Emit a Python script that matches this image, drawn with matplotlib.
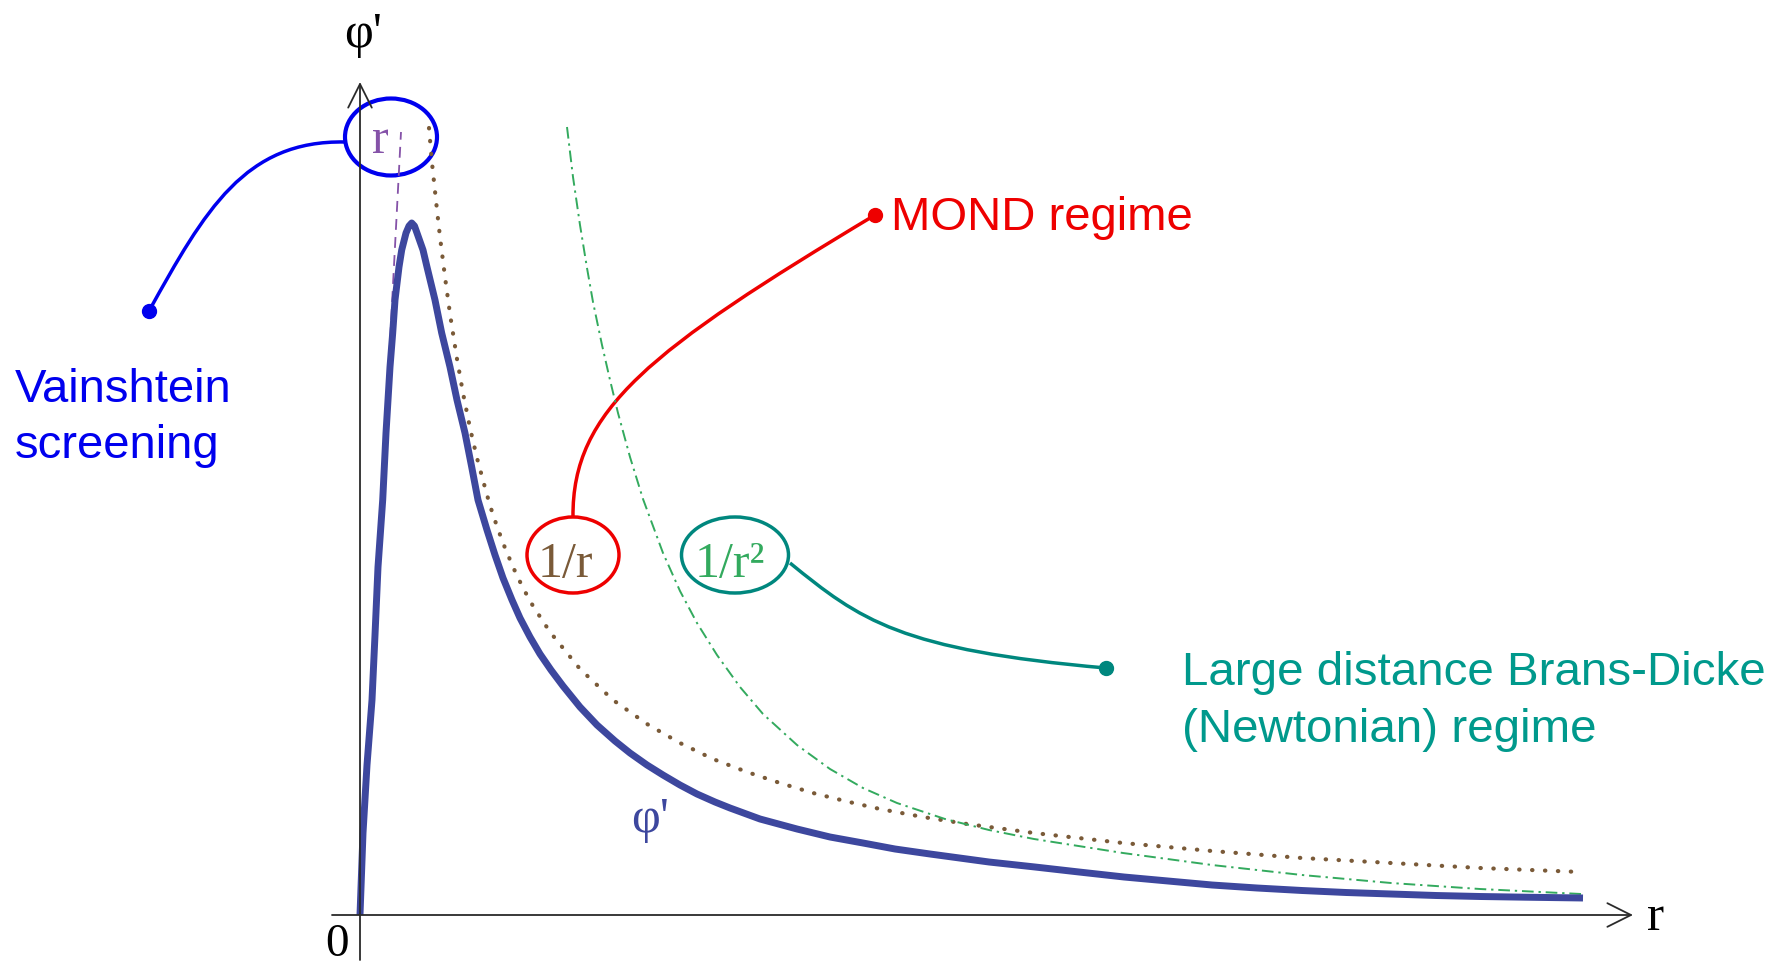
import matplotlib
matplotlib.use("Agg")
import matplotlib.pyplot as plt
from matplotlib.patches import Ellipse, PathPatch
from matplotlib.path import Path

# schematic curves (r, phi')
r_phi = [0.00, 0.03, 0.07, 0.12, 0.15, 0.18, 0.227, 0.26, 0.30, 0.327, 0.35, 0.39, 0.417,
         0.46, 0.49, 0.517, 0.545, 0.57, 0.63, 0.67, 0.75, 0.817, 0.90, 0.97, 1.05, 1.117,
         1.18, 1.27, 1.35, 1.43, 1.52, 1.60, 1.70, 1.80, 1.91, 2.03, 2.20, 2.37, 2.55,
         2.70, 2.87, 3.03, 3.20, 3.37, 3.55, 3.70, 4.00, 4.37, 4.70, 5.03, 5.35, 5.70,
         6.29, 6.75, 7.19, 7.64, 8.08, 8.52, 8.97, 9.42, 9.86, 10.31, 10.76, 11.20,
         11.65, 12.23]
phi = [0.00, 0.82, 1.50, 2.15, 2.80, 3.48, 4.15, 4.82, 5.48, 5.82, 6.15, 6.48, 6.65,
       6.82, 6.89, 6.92, 6.89, 6.82, 6.65, 6.48, 6.15, 5.82, 5.48, 5.15, 4.82, 4.48,
       4.15, 3.85, 3.60, 3.37, 3.15, 2.97, 2.78, 2.61, 2.45, 2.29, 2.08, 1.90, 1.74,
       1.62, 1.50, 1.40, 1.30, 1.21, 1.13, 1.07, 0.96, 0.86, 0.78, 0.72, 0.66, 0.61,
       0.53, 0.48, 0.43, 0.38, 0.34, 0.30, 0.27, 0.245, 0.225, 0.21, 0.195, 0.185,
       0.178, 0.17]

r_lin = [0.00, 0.41]
lin = [0.00, 7.83]

r_inv = [0.69, 0.72, 0.77, 0.80, 0.85, 0.90, 0.97, 1.03, 1.10, 1.17, 1.27, 1.33, 1.43,
         1.53, 1.63, 1.73, 1.90, 2.20, 2.53, 2.87, 3.20, 3.53, 3.87, 4.20, 4.53, 4.87,
         5.20, 5.63, 6.07, 6.74, 7.63, 8.52, 9.42, 10.31, 11.20, 12.21]
inv = [7.87, 7.52, 7.05, 6.78, 6.38, 6.01, 5.56, 5.22, 4.87, 4.57, 4.20, 4.00, 3.72,
       3.48, 3.27, 3.09, 2.83, 2.46, 2.15, 1.91, 1.72, 1.56, 1.43, 1.32, 1.22, 1.135,
       1.06, 0.98, 0.91, 0.82, 0.72, 0.64, 0.57, 0.52, 0.47, 0.43]

r_inv2 = [2.07, 2.13, 2.20, 2.27, 2.33, 2.42, 2.50, 2.58, 2.70, 2.83, 3.03, 3.20, 3.37,
          3.57, 3.80, 4.03, 4.37, 4.70, 5.03, 5.37, 5.85, 6.29, 6.74, 7.63, 8.52, 9.42,
          10.31, 11.20, 12.21]
inv2 = [7.88, 7.38, 6.90, 6.47, 6.13, 5.70, 5.35, 5.02, 4.58, 4.16, 3.62, 3.24, 2.92,
        2.60, 2.28, 2.01, 1.70, 1.46, 1.27, 1.12, 0.96, 0.85, 0.76, 0.62, 0.50, 0.40,
        0.32, 0.26, 0.21]

BLUE_CURVE = "#3d479e"
BROWN = "#7a5a38"
GREEN = "#33aa5e"
PURPLE = "#8552a8"
TEAL = "#00877e"
TEAL_TXT = "#00998c"

serif = ["Liberation Serif", "DejaVu Serif"]
sans = ["Liberation Sans", "DejaVu Sans"]

fig = plt.figure(figsize=(17.91, 9.66), dpi=100)
ax = fig.add_axes([0, 0, 1, 1])
ax.set_xlim(-3.60, 14.31)
ax.set_ylim(-0.51, 9.15)
ax.axis("off")

# axes with open arrow heads
arrow = dict(arrowstyle="->,head_length=17,head_width=8.5", mutation_scale=1,
             lw=1.3, color="#2a2a2a", shrinkA=0, shrinkB=0)
ax.annotate("", xy=(0, 8.33), xytext=(0, -0.45), arrowprops=arrow)
ax.annotate("", xy=(12.73, 0), xytext=(-0.28, 0), arrowprops=arrow)

# curves
ax.plot(r_lin, lin, color=PURPLE, lw=1.3, dashes=(6, 4))
ax.plot(r_inv, inv, color=BROWN, lw=3, dashes=(0.1, 3.0), dash_capstyle="round")
ax.plot(r_inv2, inv2, color=GREEN, lw=1.4, dashes=(6, 2.5, 1.2, 2.5))
ax.plot(r_phi, phi, color=BLUE_CURVE, lw=5, solid_capstyle="butt", solid_joinstyle="round")

# math labels
ax.text(0.03, 8.68, "φ'", family=serif, fontsize=36, ha="center", va="baseline")
ax.text(-0.23, -0.41, "0", family=serif, fontsize=34, ha="center", va="baseline")
ax.text(12.96, -0.15, "r", family=serif, fontsize=37, ha="center", va="baseline")
ax.text(2.90, 0.83, "φ'", family=serif, fontsize=36, color=BLUE_CURVE, ha="center", va="baseline")
ax.text(0.20, 7.62, "r", family=serif, fontsize=36, color=PURPLE, ha="center", va="baseline")
ax.text(2.05, 3.38, "1/r", family=serif, fontsize=36, color=BROWN, ha="center", va="baseline")
ax.text(3.70, 3.38, "1/r²", family=serif, fontsize=36, color=GREEN, ha="center", va="baseline")

# circled labels
ax.add_patch(Ellipse((0.31, 7.78), 0.92, 0.77, fill=False, ec="#0000ee", lw=3))
ax.add_patch(Ellipse((2.13, 3.60), 0.92, 0.76, fill=False, ec="#ee0000", lw=2.5))
ax.add_patch(Ellipse((3.75, 3.60), 1.07, 0.76, fill=False, ec=TEAL, lw=2.5))

# connectors to the captions
def connector(p0, p1, p2, p3, color):
    path = Path([p0, p1, p2, p3], [Path.MOVETO, Path.CURVE4, Path.CURVE4, Path.CURVE4])
    ax.add_patch(PathPatch(path, fill=False, ec=color, lw=2.5))
    ax.plot(*p0, "o", color=color, ms=10)

connector((-2.11, 6.04), (-1.55, 7.05), (-1.15, 7.75), (-0.15, 7.73), "#0000ee")
connector((5.15, 7.00), (2.90, 5.65), (2.12, 5.05), (2.13, 3.98), "#ee0000")
connector((7.46, 2.47), (5.40, 2.65), (5.00, 2.95), (4.30, 3.52), TEAL)

# captions
ax.text(-3.45, 5.13, "Vainshtein", family=sans, fontsize=34, color="#0000ee", va="baseline")
ax.text(-3.45, 4.57, "screening", family=sans, fontsize=34, color="#0000ee", va="baseline")
ax.text(5.31, 6.85, "MOND regime", family=sans, fontsize=34, color="#ee0000", va="baseline")
ax.text(8.22, 2.30, "Large distance Brans-Dicke", family=sans, fontsize=34.2, color=TEAL_TXT, va="baseline")
ax.text(8.22, 1.73, "(Newtonian) regime", family=sans, fontsize=34.2, color=TEAL_TXT, va="baseline")

fig.savefig("out.png", dpi=100)
